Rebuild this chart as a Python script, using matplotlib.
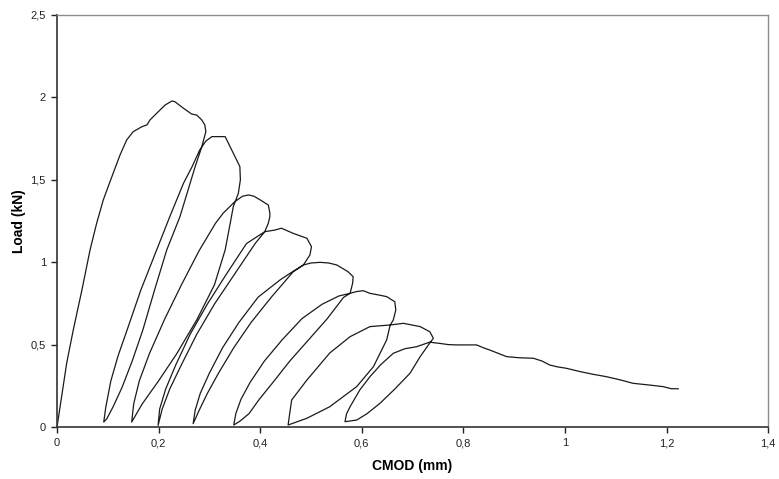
import matplotlib
matplotlib.use("Agg")
import matplotlib.pyplot as plt
from matplotlib.ticker import FuncFormatter, MultipleLocator

# CMOD (mm) / Load (kN), one list pair per cycle
x_cyc0 = [0.0, 0.009, 0.019, 0.032, 0.049, 0.065, 0.078, 0.091, 0.108, 0.124, 0.137, 0.150,
          0.167, 0.177, 0.183, 0.196, 0.213, 0.226, 0.232, 0.249, 0.265, 0.275, 0.285, 0.291, 0.293]
y_cyc0 = [0.0, 0.184, 0.387, 0.589, 0.831, 1.074, 1.236, 1.377, 1.519, 1.650, 1.741, 1.792,
          1.822, 1.833, 1.863, 1.903, 1.954, 1.978, 1.974, 1.934, 1.899, 1.893, 1.863, 1.833, 1.792]

x_cyc1 = [0.285, 0.272, 0.262, 0.242, 0.216, 0.192, 0.169, 0.148, 0.128, 0.110, 0.098, 0.092,
          0.096, 0.106, 0.120, 0.138, 0.165, 0.196, 0.222, 0.249, 0.266, 0.281, 0.293, 0.305,
          0.318, 0.331, 0.344, 0.352, 0.360, 0.361, 0.357]
y_cyc1 = [1.70, 1.58, 1.479, 1.276, 1.074, 0.831, 0.589, 0.40, 0.24, 0.12, 0.05, 0.03,
          0.12, 0.28, 0.43, 0.589, 0.831, 1.074, 1.276, 1.479, 1.58, 1.681, 1.735, 1.762,
          1.762, 1.762, 1.68, 1.63, 1.58, 1.50, 1.418]

x_cyc2 = [0.347, 0.341, 0.331, 0.310, 0.276, 0.236, 0.200, 0.168, 0.147,
          0.151, 0.162, 0.182, 0.212, 0.245, 0.280, 0.312, 0.327, 0.350, 0.365, 0.377,
          0.388, 0.400, 0.416, 0.419, 0.419, 0.416]
y_cyc2 = [1.337, 1.236, 1.074, 0.863, 0.655, 0.446, 0.28, 0.141, 0.03,
          0.141, 0.28, 0.446, 0.655, 0.863, 1.071, 1.236, 1.297, 1.367, 1.40, 1.408,
          1.40, 1.378, 1.347, 1.30, 1.276, 1.236]

x_cyc3 = [0.409, 0.390, 0.350, 0.310, 0.275, 0.245, 0.222, 0.207, 0.199,
          0.202, 0.214, 0.234, 0.262, 0.296, 0.334, 0.373, 0.409, 0.429, 0.442, 0.465,
          0.492, 0.501, 0.498]
y_cyc3 = [1.185, 1.113, 0.93, 0.746, 0.562, 0.378, 0.231, 0.108, 0.01,
          0.108, 0.231, 0.378, 0.562, 0.746, 0.93, 1.113, 1.185, 1.195, 1.206, 1.175,
          1.145, 1.094, 1.044]

x_cyc4 = [0.485, 0.465, 0.422, 0.382, 0.348, 0.318, 0.296, 0.280, 0.268,
          0.272, 0.282, 0.300, 0.326, 0.358, 0.396, 0.439, 0.459, 0.485, 0.500, 0.518,
          0.535, 0.551, 0.573, 0.583, 0.582]
y_cyc4 = [0.983, 0.942, 0.788, 0.634, 0.481, 0.327, 0.204, 0.102, 0.02,
          0.102, 0.204, 0.327, 0.481, 0.634, 0.788, 0.892, 0.933, 0.983, 0.995, 0.999,
          0.995, 0.983, 0.942, 0.912, 0.872]

x_cyc5 = [0.577, 0.564, 0.532, 0.495, 0.458, 0.425, 0.398, 0.378, 0.360, 0.348,
          0.352, 0.362, 0.380, 0.408, 0.443, 0.482, 0.522, 0.555, 0.577, 0.590, 0.603,
          0.616, 0.635, 0.649, 0.665, 0.667, 0.662]
y_cyc5 = [0.811, 0.786, 0.657, 0.528, 0.399, 0.27, 0.167, 0.081, 0.035, 0.012,
          0.081, 0.167, 0.27, 0.399, 0.528, 0.657, 0.745, 0.795, 0.811, 0.822, 0.827,
          0.811, 0.80, 0.791, 0.760, 0.710, 0.649]

x_cyc6 = [0.656, 0.649, 0.623, 0.590, 0.537, 0.492, 0.455,
          0.458, 0.462, 0.492, 0.537, 0.577, 0.616, 0.656, 0.682, 0.715, 0.734, 0.741]
y_cyc6 = [0.619, 0.528, 0.366, 0.245, 0.123, 0.053, 0.012,
          0.08, 0.164, 0.285, 0.449, 0.548, 0.609, 0.619, 0.629, 0.609, 0.578, 0.538]

x_cyc7 = [0.734, 0.715, 0.695, 0.665, 0.636, 0.610, 0.590, 0.567,
          0.570, 0.577, 0.596, 0.616, 0.638, 0.662, 0.685, 0.708, 0.734, 0.745,
          0.752, 0.770, 0.787, 0.826, 0.840, 0.852, 0.870, 0.885, 0.910, 0.938, 0.955,
          0.970, 0.985, 1.003, 1.030, 1.055, 1.082, 1.110, 1.134, 1.165, 1.193, 1.210, 1.223]
y_cyc7 = [0.51, 0.427, 0.326, 0.23, 0.144, 0.08, 0.042, 0.032,
          0.08, 0.123, 0.224, 0.305, 0.38, 0.447, 0.475, 0.487, 0.515, 0.51,
          0.508, 0.500, 0.498, 0.498, 0.48, 0.467, 0.445, 0.427, 0.42, 0.417, 0.40,
          0.376, 0.365, 0.356, 0.336, 0.320, 0.305, 0.285, 0.265, 0.255, 0.245, 0.232, 0.232]

cmod = x_cyc0 + x_cyc1 + x_cyc2 + x_cyc3 + x_cyc4 + x_cyc5 + x_cyc6 + x_cyc7
load = y_cyc0 + y_cyc1 + y_cyc2 + y_cyc3 + y_cyc4 + y_cyc5 + y_cyc6 + y_cyc7

plt.rcParams['font.family'] = ['Liberation Sans', 'DejaVu Sans']

fig = plt.figure(figsize=(7.79, 4.79), dpi=100)
ax = fig.add_axes([0.0732, 0.1086, 0.9128, 0.8601])

ax.plot(cmod, load, color='#1a1a1a', lw=0.9)

ax.set_xlim(0, 1.4)
ax.set_ylim(0, 2.5)
ax.xaxis.set_major_locator(MultipleLocator(0.2))
ax.yaxis.set_major_locator(MultipleLocator(0.5))
comma = FuncFormatter(lambda v, p: ('%g' % round(v, 2)).replace('.', ','))
ax.xaxis.set_major_formatter(comma)
ax.yaxis.set_major_formatter(comma)
ax.tick_params(direction='out', length=4, width=1, labelsize=8, colors='#222222', pad=4)

for s in ['top', 'right']:
    ax.spines[s].set_color('#8c8c8c')
    ax.spines[s].set_linewidth(1)
for s in ['left', 'bottom']:
    ax.spines[s].set_color('#333333')
    ax.spines[s].set_linewidth(1.2)

ax.set_xlabel('CMOD (mm)', fontsize=10, fontweight='bold', labelpad=8)
ax.set_ylabel('Load (kN)', fontsize=10, fontweight='bold', labelpad=3)

fig.savefig('out.png', dpi=100)
